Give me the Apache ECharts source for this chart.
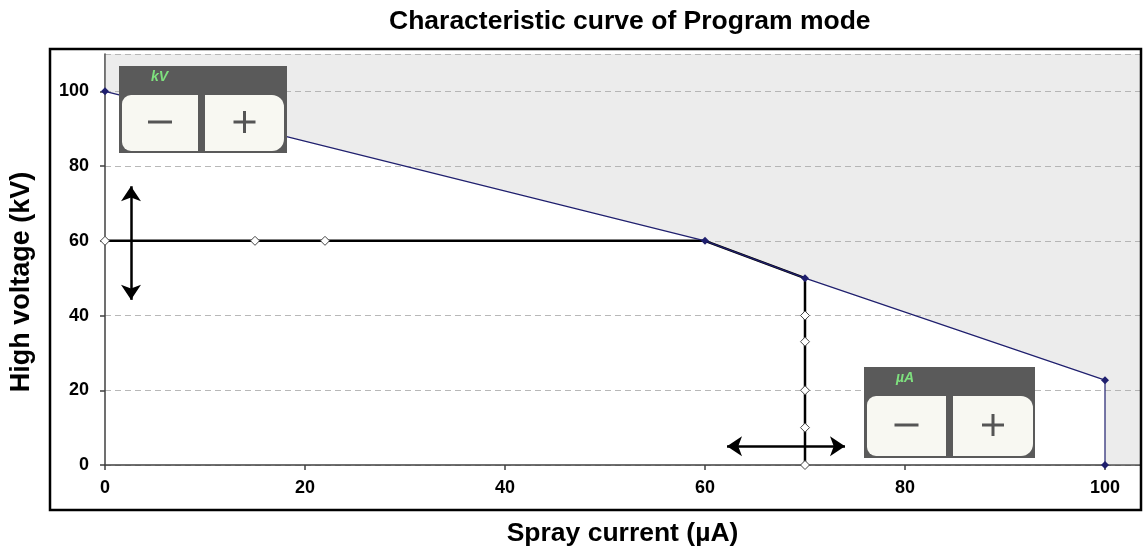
<!DOCTYPE html>
<html lang="en">
<head>
    <meta charset="UTF-8">
    <title>Characteristic curve of Program mode</title>
    <script src="https://cdn.jsdelivr.net/npm/echarts@6/dist/echarts.min.js"></script>
    <style>
        html, body { margin: 0; padding: 0; background: #fff; }
        #main { width: 1143px; height: 552px; }
    </style>
</head>
<body>
<div id="main"></div>
<script>
    // characteristic curve (upper limit)
    var curveI = [0, 60, 70, 100, 100];
    var curveV = [100, 60, 50, 22.7, 0];
    // shaded region above the curve, runs on to the right edge
    var shadeI = [0, 60, 70, 100, 100, 103.5];
    var shadeV = [100, 60, 50, 22.7, 0, 0];
    // operating line (black)
    var opI = [0, 15, 22, 60, 70, 70, 70, 70, 70, 70];
    var opV = [60, 60, 60, 60, 50, 40, 33, 20, 10, 0];
    // double arrows
    var arrowV = [[2.6, 74.6], [2.6, 44.2]];
    var arrowI = [[62.2, 5], [74, 5]];
    var xTicks = [0, 20, 40, 60, 80, 100];
    var yTicks = [0, 20, 40, 60, 80, 100];

    function pairs(xs, ys) {
        var out = [];
        for (var i = 0; i < xs.length; i++) out.push([xs[i], ys[i]]);
        return out;
    }

    var opData = pairs(opI, opV).map(function (p) {
        // the two points on the curve carry the curve's own marker
        if ((p[0] === 60 && p[1] === 60) || (p[0] === 70 && p[1] === 50)) {
            return { value: p, symbol: 'none' };
        }
        return p;
    });

    var navy = '#1f1f6e';
    var fontLbl = { fontFamily: 'Liberation Sans', fontWeight: 'bold', fontSize: 18, color: '#000' };

    // button panel pieces (decoration), drawn on top of everything
    function panel(x, y, w, h, label, bw1, bw2) {
        var by = y + 29, bh = h - 31;
        var b1x = x + 3, b2x = x + 3 + bw1 + 7;
        var m1 = b1x + bw1 / 2, m2 = b2x + bw2 / 2, my = by + bh / 2 - 1;
        var parts = [
            { type: 'rect', shape: { x: x, y: y, width: w, height: h }, style: { fill: '#5a5a5a' } },
            { type: 'text', x: x + 32, y: y + 4, style: { text: label, fill: '#7ee07e', font: 'italic bold 14px Liberation Sans' } },
            { type: 'rect', shape: { x: b1x, y: by, width: bw1, height: bh, r: [9, 0, 0, 9] }, style: { fill: '#f8f8f2' } },
            { type: 'rect', shape: { x: b2x, y: by, width: bw2, height: bh, r: [0, 12, 12, 0] }, style: { fill: '#f8f8f2' } },
            { type: 'line', shape: { x1: m1 - 12, y1: my, x2: m1 + 12, y2: my }, style: { stroke: '#555', lineWidth: 3 } },
            { type: 'line', shape: { x1: m2 - 11, y1: my, x2: m2 + 11, y2: my }, style: { stroke: '#555', lineWidth: 3 } },
            { type: 'line', shape: { x1: m2, y1: my - 11, x2: m2, y2: my + 11 }, style: { stroke: '#555', lineWidth: 3 } }
        ];
        parts.forEach(function (p, i) { p.z = 100 + i; p.silent = true; });
        return parts;
    }

    var chart = echarts.init(document.getElementById('main'));
    var option = {
        animation: false,
        title: {
            text: 'Characteristic curve of Program mode',
            left: 384, top: 3,
            textStyle: { fontFamily: 'Liberation Sans', fontWeight: 'bold', fontSize: 26.5, color: '#000' }
        },
        grid: { left: 105, right: 3, top: 54, bottom: 86 },
        xAxis: {
            type: 'value', min: 0, max: 103.5, interval: 20,
            name: 'Spray current (µA)', nameLocation: 'middle', nameGap: 55,
            nameTextStyle: { fontFamily: 'Liberation Sans', fontWeight: 'bold', fontSize: 26.5, color: '#000' },
            axisLine: { lineStyle: { color: '#404040', width: 1.5 } },
            axisTick: { length: 5, lineStyle: { color: '#404040', width: 1.5 } },
            axisLabel: Object.assign({ margin: 14, showMaxLabel: false,
                formatter: function (v) { return xTicks.indexOf(v) >= 0 ? v : ''; } }, fontLbl),
            splitLine: { show: false }
        },
        yAxis: {
            type: 'value', min: 0, max: 110, interval: 20,
            axisLine: { show: true, lineStyle: { color: '#404040', width: 1.5 } },
            axisTick: { show: true, length: 5, lineStyle: { color: '#404040', width: 1.5 } },
            axisLabel: Object.assign({ margin: 16, showMaxLabel: false,
                formatter: function (v) { return yTicks.indexOf(v) >= 0 ? v : ''; } }, fontLbl),
            splitLine: { lineStyle: { color: '#b8b8b8', type: [6, 4], width: 1 } }
        },
        graphic: [
            { type: 'rect', z: 90, silent: true, shape: { x: 50, y: 49, width: 1091, height: 461 },
              style: { fill: 'none', stroke: '#000', lineWidth: 2.5 } },
            { type: 'text', z: 90, x: 22, y: 282, rotation: Math.PI / 2,
              style: { text: 'High voltage (kV)', fill: '#000', font: 'bold 27px Liberation Sans',
                       textAlign: 'center', textVerticalAlign: 'middle' } }
        ].concat(panel(119, 66, 168, 87, 'kV', 76, 79), panel(864, 367, 171, 91, 'µA', 79, 80)),
        series: [
            {
                name: 'shade', type: 'line', data: pairs(shadeI, shadeV),
                symbol: 'none', silent: true, z: 1,
                lineStyle: { width: 0 },
                areaStyle: { origin: 'end', color: 'rgba(175,175,175,0.33)' }
            },
            {
                name: 'operating', type: 'line', data: opData, z: 3,
                symbol: 'diamond', symbolSize: 9,
                lineStyle: { color: '#000', width: 2.5 },
                itemStyle: { color: '#fff', borderColor: '#444', borderWidth: 1 },
                markLine: {
                    silent: true, symbol: ['arrow', 'arrow'], symbolSize: 15,
                    label: { show: false },
                    lineStyle: { color: '#000', width: 2.5, type: 'solid' },
                    data: [
                        [{ coord: arrowV[0] }, { coord: arrowV[1] }],
                        [{ coord: arrowI[0] }, { coord: arrowI[1] }]
                    ]
                }
            },
            {
                name: 'curve', type: 'line', data: pairs(curveI, curveV), z: 4,
                symbol: 'diamond', symbolSize: 8,
                lineStyle: { color: navy, width: 1.2 },
                itemStyle: { color: navy }
            }
        ]
    };
    chart.setOption(option);
</script>
</body>
</html>
